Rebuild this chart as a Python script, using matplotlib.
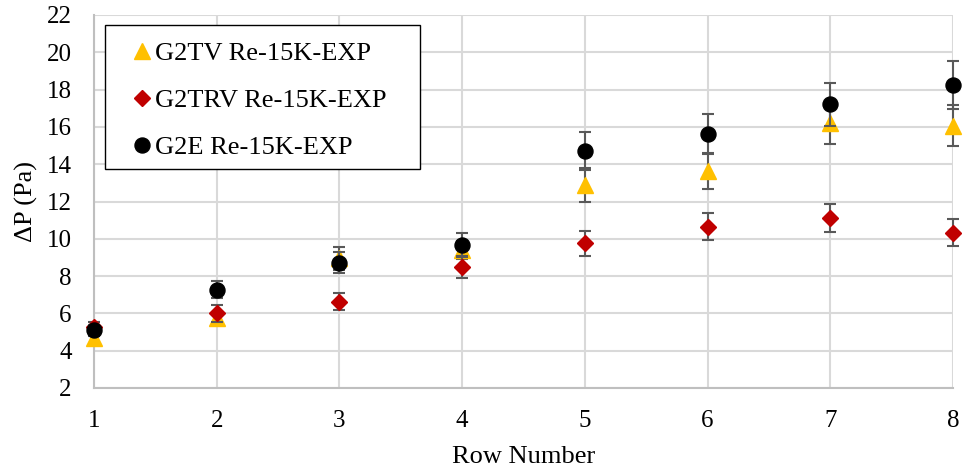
import matplotlib
matplotlib.use("Agg")
import matplotlib.pyplot as plt
from matplotlib.patches import Rectangle

# Pressure drop per tube row, Re = 15K experiments
rows = [1, 2, 3, 4, 5, 6, 7, 8]

g2tv = [4.70, 5.75, 8.95, 9.40, 12.88, 13.64, 16.19, 16.05]
g2tv_err = [0.30, 0.25, 0.60, 0.50, 0.90, 0.95, 1.10, 1.10]

g2trv = [5.25, 6.00, 6.63, 8.50, 9.75, 10.65, 11.10, 10.33]
g2trv_err = [0.30, 0.45, 0.45, 0.58, 0.68, 0.73, 0.76, 0.72]

g2e = [5.10, 7.27, 8.72, 9.67, 14.71, 15.62, 17.21, 18.25]
g2e_err = [0.30, 0.47, 0.55, 0.63, 1.00, 1.09, 1.15, 1.27]

labels = ["G2TV Re-15K-EXP", "G2TRV Re-15K-EXP", "G2E Re-15K-EXP"]
yticks = list(range(2, 23, 2))

plt.rcParams["font.family"] = ["Liberation Serif", "DejaVu Serif"]

W, H = 965, 471
fig = plt.figure(figsize=(W / 100, H / 100), dpi=100)
ax = fig.add_axes([94 / W, 1 - 388 / H, (953 - 94) / W, (388 - 15) / H])

err_kw = dict(ecolor="#595959", elinewidth=1.5, capsize=4.5, capthick=1.5,
              linestyle="none")

series = [
    (g2tv, g2tv_err, "^", 11.5, "#FFC000", 3),
    (g2trv, g2trv_err, "D", 7.8, "#C00000", 4),
    (g2e, g2e_err, "o", 10.8, "black", 5),
]
handles = []
for vals, errs, mk, ms, col, z in series:
    cont = ax.errorbar(rows, vals, yerr=errs, marker=mk, ms=ms, mfc=col,
                       mec=col, zorder=z, **err_kw)
    data_line, caplines, barcols = cont.lines
    arts = [data_line] + list(caplines) + list(barcols)
    for art in arts:
        art.set_clip_on(False)
    handles.append(data_line)

ax.set_xlim(1, 8)
ax.set_ylim(2, 22)
ax.set_xticks(rows)
ax.set_yticks(yticks)
ax.tick_params(axis="both", length=0, labelsize=18)
ax.tick_params(axis="y", pad=16)
ax.tick_params(axis="x", pad=16)

ax.grid(True, color="#d9d9d9", linewidth=1.5, zorder=0)
ax.set_axisbelow(True)
for side in ("top", "right"):
    ax.spines[side].set_visible(False)
for side in ("left", "bottom"):
    ax.spines[side].set_color("#bfbfbf")
    ax.spines[side].set_linewidth(1.5)
    ax.spines[side].set_zorder(1)

ax.set_xlabel("Row Number", fontsize=19, labelpad=10)
ax.set_ylabel("ΔP (Pa)", fontsize=19, labelpad=6)

# legend box and entries
fig.patches.append(Rectangle((105 / W, 1 - 169 / H), 315 / W, 144 / H,
                             transform=fig.transFigure, fill=True,
                             facecolor="white", edgecolor="black",
                             linewidth=1.0, zorder=10))
leg = fig.legend(handles, labels, loc="upper left",
                 bbox_to_anchor=(134 / W, 1 - 42 / H), fontsize=19,
                 frameon=False, handlelength=0.6, handletextpad=0.2,
                 labelspacing=0.88, borderpad=0, borderaxespad=0,
                 markerscale=1.0)
leg.set_zorder(11)

fig.savefig("out.png", dpi=100)
